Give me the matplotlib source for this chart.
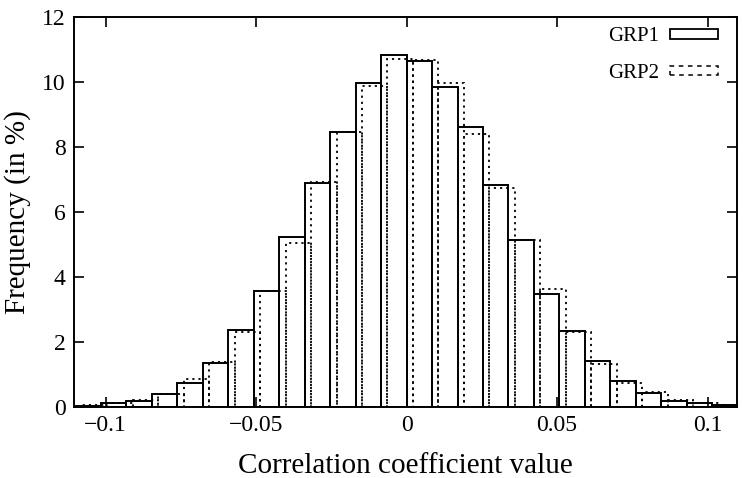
import numpy as np
import matplotlib
matplotlib.use("Agg")
import matplotlib.pyplot as plt
from matplotlib.patches import Rectangle

# частоты (в %) по 26 интервалам на [-0.11, 0.11]
bin_lo, bin_hi = -0.11, 0.11
grp1 = [0.03, 0.10, 0.18, 0.38, 0.73, 1.36, 2.35, 3.57, 5.22, 6.88, 8.47, 9.96, 10.83,
        10.66, 9.84, 8.61, 6.82, 5.14, 3.47, 2.34, 1.42, 0.80, 0.42, 0.19, 0.11, 0.04]
grp2 = [0.05, 0.10, 0.20, 0.38, 0.85, 1.38, 2.29, 3.57, 5.03, 6.93, 8.47, 9.89, 10.73,
        10.68, 9.98, 8.41, 6.75, 5.14, 3.62, 2.31, 1.31, 0.73, 0.45, 0.20, 0.10, 0.05]
x_ticks = [-0.1, -0.05, 0, 0.05, 0.1]
x_tick_labels = ['\u22120.1', '\u22120.05', '0', '0.05', '0.1']
y_ticks = [0, 2, 4, 6, 8, 10, 12]

plt.rcParams['font.family'] = ['Liberation Serif', 'DejaVu Serif']

n_bins = len(grp1)
width = (bin_hi - bin_lo) / n_bins
edges = bin_lo + width * np.arange(n_bins)

fig = plt.figure(figsize=(7.43, 4.78), dpi=100)
ax = fig.add_axes([0.0996, 0.1492, 0.8924, 0.8146])

# GRP2 сдвинута на четверть интервала
ax.bar(edges + width / 4, grp2, width=width, align='edge', fill=False,
       edgecolor='black', linewidth=1.3, linestyle=(0, (1.2, 2.2)))
ax.bar(edges, grp1, width=width, align='edge', fill=False,
       edgecolor='black', linewidth=1.4)

ax.set_xlim(-0.1105, 0.1098)
ax.set_ylim(0, 12)
ax.set_xticks(x_ticks)
ax.set_xticklabels(x_tick_labels)
ax.set_yticks(y_ticks)
ax.tick_params(direction='in', top=True, right=True, length=7, width=1.2,
               labelsize=17, pad=6)
for s in ax.spines.values():
    s.set_linewidth(1.4)

ax.set_xlabel('Correlation coefficient value', fontsize=21, labelpad=12)
ax.set_ylabel('Frequency (in %)', fontsize=21, labelpad=8)

h1 = Rectangle((0, 0), 1, 1, fill=False, edgecolor='black', linewidth=1.3)
h2 = Rectangle((0, 0), 1, 1, fill=False, edgecolor='black', linewidth=1.1,
               linestyle=(0, (3, 3)))
ax.legend([h1, h2], ['GRP1', 'GRP2'], loc='upper right',
          bbox_to_anchor=(0.982, 0.993), frameon=False,
          markerfirst=False, fontsize=15, handlelength=2.3, handleheight=0.35,
          labelspacing=0.85, handletextpad=0.5, borderaxespad=0.05,
          borderpad=0.3)

fig.savefig('out.png', dpi=100)
